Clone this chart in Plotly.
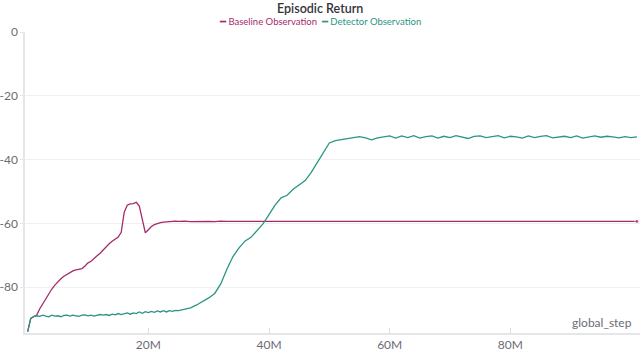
import plotly.graph_objects as go

# global_step in millions: 0.5M steps up to 25M, then 1M steps
steps_m = [i * 0.5 for i in range(51)] + list(range(26, 102))

baseline = [
    # 0 .. 25M (0.5M steps)
    -94.0, -89.8, -89.3, -88.8, -86.8, -85.2, -83.6, -82.2, -80.6, -79.4,
    -78.3, -77.4, -76.6, -76.0, -75.4, -74.9, -74.6, -74.5, -74.2, -73.4,
    -72.4, -71.9, -70.9, -70.2, -69.4, -68.3, -67.4, -66.4, -65.6, -64.9,
    -64.3, -62.8, -56.5, -54.3, -53.9, -53.8, -53.4, -54.6, -58.5, -63.0,
    -62.0, -61.0, -60.4, -60.0, -59.8, -59.6, -59.5, -59.4, -59.4, -59.3,
    -59.4,
    # 26 .. 101M
    -59.3, -59.5, -59.4, -59.3, -59.4, -59.5, -59.3, -59.4, -59.4, -59.5,
    -59.3, -59.4, -59.5, -59.4, -59.3, -59.4, -59.5, -59.4, -59.3, -59.4,
    -59.4, -59.5, -59.3, -59.4, -59.4, -59.3, -59.5, -59.4, -59.4, -59.3,
    -59.4, -59.5, -59.4, -59.3, -59.4, -59.4, -59.5, -59.4, -59.3, -59.4,
    -59.5, -59.4, -59.4, -59.3, -59.4, -59.5, -59.4, -59.3, -59.4, -59.4,
    -59.5, -59.4, -59.3, -59.4, -59.4, -59.5, -59.4, -59.3, -59.4, -59.4,
    -59.5, -59.4, -59.4, -59.3, -59.4, -59.4, -59.5, -59.3, -59.4, -59.4,
    -59.5, -59.4, -59.3, -59.4, -59.4, -59.4,
]

detector = [
    # 0 .. 25M (0.5M steps)
    -94.0, -89.8, -89.2, -89.0, -89.2, -88.8, -89.1, -89.3, -88.8, -89.1,
    -89.0, -89.3, -88.9, -88.8, -89.1, -88.8, -89.0, -89.2, -88.8, -88.7,
    -89.0, -88.8, -89.1, -88.8, -88.6, -88.8, -88.6, -88.9, -88.5, -88.7,
    -88.3, -88.6, -88.3, -88.1, -88.5, -88.1, -88.3, -87.8, -88.2, -87.7,
    -88.0, -87.6, -87.9, -87.5, -87.8, -87.4, -87.8, -87.4, -87.6, -87.3,
    -87.4,
    # 26 .. 101M
    -87.0, -86.5, -85.6, -84.6, -83.4, -82.0, -79.0, -74.5, -70.5, -67.8,
    -65.6, -64.4, -62.3, -60.2, -57.3, -54.3, -52.0, -51.2, -49.3, -48.0,
    -46.6, -44.0, -41.0, -37.8, -34.8, -34.1, -33.8, -33.5, -33.2, -32.8,
    -33.2, -33.8, -33.2, -33.0, -32.6, -33.3, -32.6, -33.1, -32.5, -33.3,
    -32.8, -32.6, -33.3, -32.7, -33.1, -32.5, -32.9, -33.4, -32.7, -32.6,
    -33.1, -32.8, -32.5, -33.2, -32.7, -32.9, -33.3, -32.6, -33.1, -32.7,
    -32.5, -33.2, -32.9, -32.7, -33.1, -32.6, -33.3, -32.9, -32.6, -33.0,
    -32.7, -32.9, -33.2, -32.8, -33.1, -32.9,
]

x_tick_vals = [20e6, 40e6, 60e6, 80e6]
x_tick_text = ["20M", "40M", "60M", "80M"]
y_tick_vals = [0, -20, -40, -60, -80]
y_tick_text = ["0", "-20", "-40", "-60", "-80"]

BASE_COLOR = "#a52a6b"
DET_COLOR = "#2a9584"
FONT = "Lato"

x = [s * 1e6 for s in steps_m]

fig = go.Figure()
fig.add_trace(go.Scatter(
    x=x, y=baseline, name="Baseline Observation",
    mode="lines+markers",
    line=dict(color=BASE_COLOR, width=1.3),
    marker=dict(size=[0] * (len(x) - 1) + [4], color=BASE_COLOR),
))
fig.add_trace(go.Scatter(
    x=x, y=detector, name="Detector Observation",
    mode="lines",
    line=dict(color=DET_COLOR, width=1.3),
))

fig.update_layout(
    width=640, height=353,
    margin=dict(l=25, r=0, t=32, b=20),
    paper_bgcolor="white", plot_bgcolor="white",
    showlegend=False,
    font=dict(family=FONT, size=12, color="#6b6b76"),
)

fig.update_xaxes(
    range=[-0.45e6, 101.5e6],
    tickvals=x_tick_vals, ticktext=x_tick_text,
    showgrid=False, zeroline=False,
    showline=True, linecolor="#e6e6e9", linewidth=1.5,
    ticks="inside", ticklen=5, tickcolor="#dcdce0",
    tickfont=dict(size=12, color="#6b6b76"),
)
fig.update_yaxes(
    range=[-94.4, 0],
    tickvals=y_tick_vals, ticktext=y_tick_text,
    showgrid=True, gridcolor="#f0f0f2", gridwidth=1,
    zeroline=False,
    showline=True, linecolor="#e6e6e9", linewidth=1.5,
    ticks="outside", ticklen=3, tickcolor="#e6e6e9",
    tickfont=dict(size=12, color="#6b6b76"),
)

# title, legend and axis name as text, centred on the whole figure
mid = (320 - 25) / 615
fig.add_annotation(
    text="Episodic Return", x=mid, y=1, xref="paper", yref="paper",
    xanchor="center", yanchor="bottom", yshift=14, showarrow=False,
    font=dict(family=FONT, size=12.5, color="#33333a", weight=600),
)
fig.add_annotation(
    text=(f"<span style='color:{BASE_COLOR}'>━ Baseline Observation</span>"
          f"  <span style='color:{DET_COLOR}'>━ Detector Observation</span>"),
    x=mid, y=1, xref="paper", yref="paper",
    xanchor="center", yanchor="bottom", yshift=3, showarrow=False,
    font=dict(family=FONT, size=9.5),
)
fig.add_annotation(
    text="global_step", x=1, y=0, xref="paper", yref="paper",
    xanchor="right", yanchor="bottom", xshift=-6, yshift=1, showarrow=False,
    font=dict(family=FONT, size=12, color="#6b6b76"),
)

# drop the page's default body margin so the figure sits at the corner
fig.write_html(
    "out.html",
    config={"displayModeBar": False},
    post_script="document.body.style.margin='0';",
)
